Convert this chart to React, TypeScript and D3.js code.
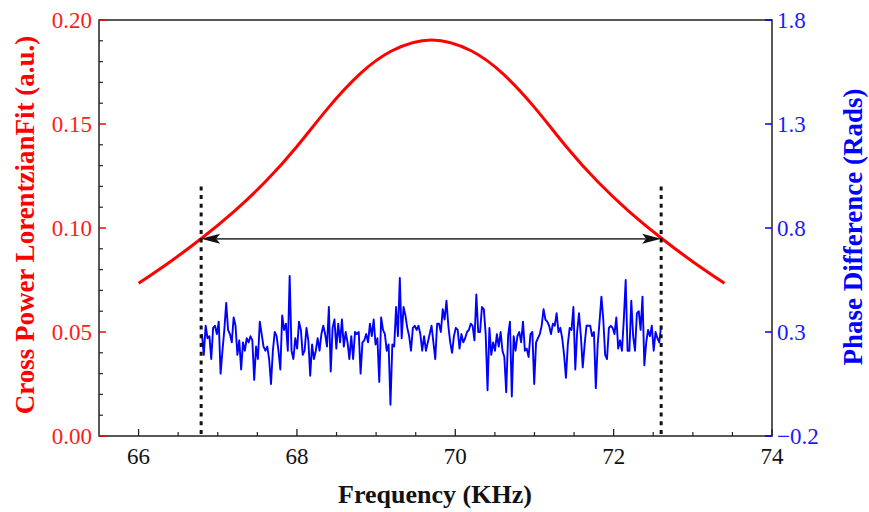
import React from "react";
import * as d3 from "d3";

// ---- data ----
const fitFreq = [66.0, 66.4, 66.8, 67.2, 67.6, 68.0, 68.4, 68.8, 69.2, 69.7, 70.2, 70.6, 71.0, 71.4, 71.8, 72.2, 72.6, 73.0, 73.4];
const fitPower = [0.0734, 0.0838, 0.0952, 0.1078, 0.1222, 0.1392, 0.1580, 0.1742, 0.1852, 0.1904, 0.1852, 0.1742, 0.1580, 0.1392, 0.1222, 0.1078, 0.0952, 0.0838, 0.0734];

const phaseStart = 66.8;
const phaseEnd = 72.6;
const phaseValues = [
  0.29, 0.19, 0.33, 0.27, 0.28, 0.17, 0.32, 0.33, 0.29, 0.35, 0.10, 0.21, 0.31, 0.44, 0.31, 0.29, 0.25, 0.37, 0.33, 0.19,
  0.26, 0.12, 0.25, 0.21, 0.27, 0.25, 0.28, 0.26, 0.07, 0.23, 0.17, 0.35, 0.29, 0.23, 0.21, 0.23, 0.17, 0.05, 0.21, 0.30,
  0.28, 0.21, 0.12, 0.38, 0.31, 0.34, 0.21, 0.57, 0.21, 0.17, 0.27, 0.22, 0.35, 0.31, 0.19, 0.21, 0.32, 0.26, 0.09, 0.24,
  0.17, 0.21, 0.27, 0.21, 0.29, 0.33, 0.29, 0.23, 0.42, 0.11, 0.32, 0.36, 0.22, 0.34, 0.25, 0.36, 0.23, 0.30, 0.25, 0.17,
  0.28, 0.17, 0.30, 0.29, 0.30, 0.10, 0.25, 0.26, 0.29, 0.25, 0.34, 0.28, 0.36, 0.24, 0.27, 0.06, 0.37, 0.31, 0.29, 0.21,
  0.24, -0.05, 0.24, 0.23, 0.42, 0.28, 0.56, 0.27, 0.42, 0.38, 0.32, 0.28, 0.21, 0.32, 0.33, 0.31, 0.33, 0.29, 0.21,
  0.28, 0.21, 0.25, 0.29, 0.33, 0.25, 0.17, 0.34, 0.34, 0.30, 0.41, 0.36, 0.45, 0.33, 0.25, 0.20, 0.28, 0.32, 0.31, 0.22,
  0.29, 0.25, 0.27, 0.30, 0.31, 0.34, 0.33, 0.26, 0.48, 0.30, 0.30, 0.42, 0.41, 0.29, 0.02, 0.32, 0.19, 0.25, 0.21, 0.29,
  0.23, 0.30, 0.21, 0.18, 0.01, 0.28, 0.35, -0.01, 0.28, 0.21, 0.28, 0.30, 0.25, 0.35, 0.21, 0.22, 0.18, 0.29, 0.30, 0.05,
  0.25, 0.27, 0.29, 0.33, 0.41, 0.36, 0.35, 0.33, 0.29, 0.34, 0.33, 0.39, 0.30, 0.32, 0.27, 0.19, 0.08, 0.24, 0.32, 0.31,
  0.42, 0.12, 0.30, 0.39, 0.28, 0.13, 0.24, 0.33, 0.33, 0.33, 0.28, 0.30, 0.03, 0.24, 0.35, 0.47, 0.36, 0.19, 0.17, 0.32,
  0.33, 0.32, 0.29, 0.37, 0.22, 0.26, 0.21, 0.36, 0.55, 0.21, 0.21, 0.45, 0.28, 0.21, 0.39, 0.40, 0.31, 0.47, 0.14, 0.25,
  0.31, 0.28, 0.33, 0.21, 0.30, 0.27, 0.25, 0.33,
];

const xTicks = [66, 68, 70, 72, 74];
const leftTicks = [0.0, 0.05, 0.1, 0.15, 0.2];
const rightTicks = [-0.2, 0.3, 0.8, 1.3, 1.8];

const fwhmLeft = 66.79;
const fwhmRight = 72.6;
const halfMax = 0.0948;
const markerTop = 0.12;

// ---- layout ----
const W = 869;
const H = 512;
const L = 99;
const R = 772;
const T = 20;
const B = 436;

export default function App() {
  const x = d3.scaleLinear().domain([65.5, 74]).range([L, R]);
  const yL = d3.scaleLinear().domain([0, 0.2]).range([B, T]);
  const yR = d3.scaleLinear().domain([-0.2, 1.8]).range([B, T]);

  const fitData = fitFreq.map((f, i) => [f, fitPower[i]] as [number, number]);
  const n = phaseValues.length;
  const phaseData = phaseValues.map((v, i) => [phaseStart + (i * (phaseEnd - phaseStart)) / (n - 1), v] as [number, number]);

  const fitLine = d3
    .line<[number, number]>()
    .x((d) => x(d[0]))
    .y((d) => yL(d[1]))
    .curve(d3.curveNatural);
  const phaseLine = d3
    .line<[number, number]>()
    .x((d) => x(d[0]))
    .y((d) => yR(d[1]));

  const xMinor = d3.range(66, 74.01, 0.5).filter((v) => !xTicks.includes(v));
  const yMinor = d3
    .range(0, 0.2001, 0.01)
    .map((v) => +v.toFixed(2))
    .filter((v) => !leftTicks.some((t) => Math.abs(t - v) < 1e-6));

  const font = "'Liberation Serif', 'Times New Roman', serif";
  const ax1 = x(fwhmLeft);
  const ax2 = x(fwhmRight);
  const ay = yL(halfMax);
  const hl = 19;
  const hw = 5;
  const notch = 4;

  return (
    <svg width={W} height={H} style={{ position: "absolute", left: 0, top: 0, background: "#fff" }} fontFamily={font}>
      {/* frame */}
      <rect x={L} y={T} width={R - L} height={B - T} fill="none" stroke="#222" strokeWidth={1.5} />

      {/* x ticks */}
      {xTicks.map((t) => (
        <g key={"xt" + t}>
          <line x1={x(t)} x2={x(t)} y1={B} y2={B - 7} stroke="#222" strokeWidth={1.3} />
          <text x={x(t)} y={464} textAnchor="middle" fontSize={23} fill="#111">
            {t}
          </text>
        </g>
      ))}
      {xMinor.map((t) => (
        <line key={"xm" + t} x1={x(t)} x2={x(t)} y1={B} y2={B - 4} stroke="#222" strokeWidth={1.2} />
      ))}

      {/* left ticks */}
      {leftTicks.map((t) => (
        <g key={"lt" + t}>
          <line x1={L} x2={L + 7} y1={yL(t)} y2={yL(t)} stroke="#ff0000" strokeWidth={1.5} />
          <text x={92} y={yL(t) + 7.5} textAnchor="end" fontSize={23} fill="#ff1a1a">
            {t.toFixed(2)}
          </text>
        </g>
      ))}
      {yMinor.map((t) => (
        <line key={"lm" + t} x1={L} x2={L + 4} y1={yL(t)} y2={yL(t)} stroke="#222" strokeWidth={1.2} />
      ))}

      {/* right ticks */}
      {rightTicks.map((t) => (
        <g key={"rt" + t}>
          <line x1={R} x2={R - 7} y1={yR(t)} y2={yR(t)} stroke="#0000ff" strokeWidth={1.5} />
          <text x={R + 5} y={yR(t) + 7.5} textAnchor="start" fontSize={23} fill="#1a1aff">
            {t < 0 ? "\u2212" + Math.abs(t).toFixed(1) : t.toFixed(1)}
          </text>
        </g>
      ))}

      {/* fit curve */}
      <path d={fitLine(fitData) || ""} fill="none" stroke="#ff0000" strokeWidth={3} />

      {/* phase curve */}
      <path d={phaseLine(phaseData) || ""} fill="none" stroke="#0000ff" strokeWidth={1.9} strokeLinejoin="round" />

      {/* dashed markers */}
      {[fwhmLeft, fwhmRight].map((f) => (
        <line key={"dm" + f} x1={x(f)} x2={x(f)} y1={yL(markerTop)} y2={B} stroke="#111" strokeWidth={3} strokeDasharray="4,4.7" />
      ))}

      {/* double arrow */}
      <line x1={ax1 + hl - notch} x2={ax2 - hl + notch} y1={ay} y2={ay} stroke="#444" strokeWidth={1.7} />
      <path d={`M${ax1},${ay} L${ax1 + hl},${ay - hw} L${ax1 + hl - notch},${ay} L${ax1 + hl},${ay + hw} Z`} fill="#111" />
      <path d={`M${ax2},${ay} L${ax2 - hl},${ay - hw} L${ax2 - hl + notch},${ay} L${ax2 - hl},${ay + hw} Z`} fill="#111" />

      {/* axis titles */}
      <text x={435} y={503} textAnchor="middle" fontSize={26} fontWeight="bold" fill="#111">
        Frequency (KHz)
      </text>
      <text transform={`translate(34,225) rotate(-90)`} textAnchor="middle" fontSize={27} fontWeight="bold" fill="#ff0000">
        Cross Power LorentzianFit (a.u.)
      </text>
      <text transform={`translate(862,227) rotate(-90)`} textAnchor="middle" fontSize={27} fontWeight="bold" fill="#0000ff">
        Phase Difference (Rads)
      </text>
    </svg>
  );
}
